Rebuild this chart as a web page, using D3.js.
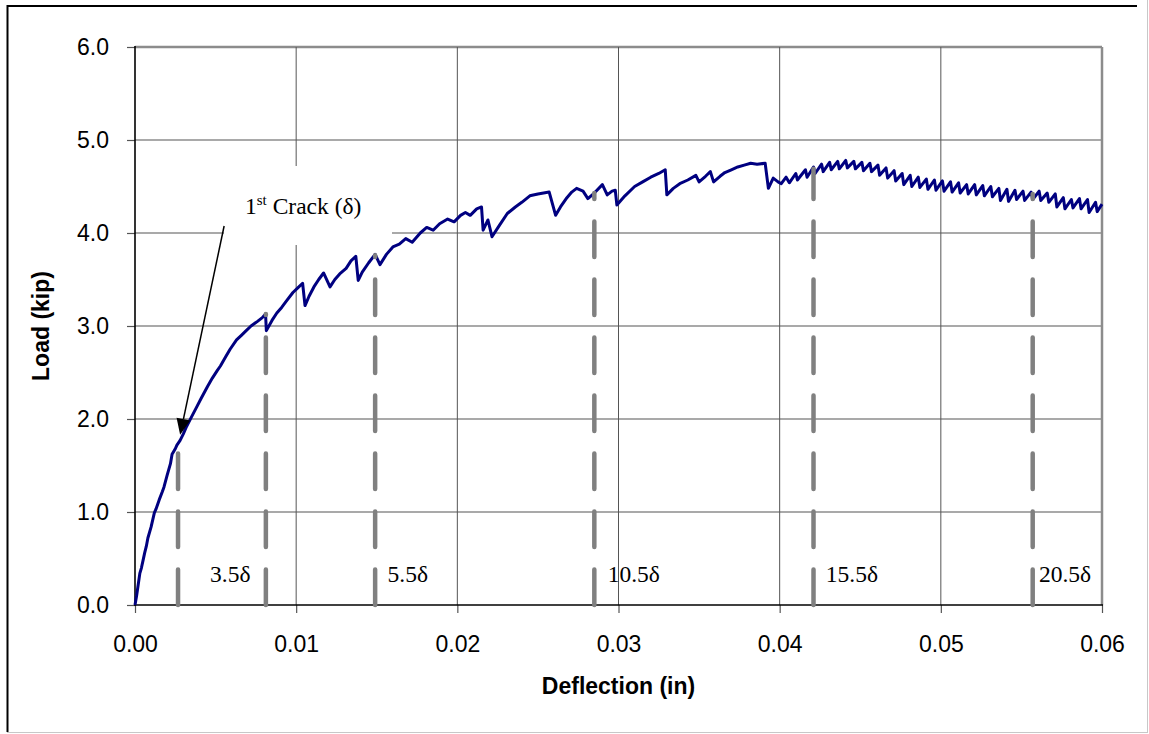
<!DOCTYPE html>
<html>
<head>
<meta charset="UTF-8">
<title>Load vs Deflection</title>
<style>
body { margin: 0; background: #fff; }
svg { display: block; }
.axis .tick text {
    font-family: "Liberation Sans", Arial, sans-serif;
    font-size: 23px;
    fill: #000;
}
.axis .tick line { stroke: #555; stroke-width: 1.2px; }
.axis path.domain { display: none; }
.axis-title {
    font-family: "Liberation Sans", Arial, sans-serif;
    font-size: 23px;
    font-weight: bold;
    fill: #000;
}
.note {
    font-family: "Liberation Serif", "Times New Roman", serif;
    font-size: 23.5px;
    fill: #000;
}
.load-path {
    fill: none;
    stroke: #000080;
    stroke-width: 3px;
    stroke-linejoin: round;
}
.mark-line {
    stroke: #808080;
    stroke-width: 4.5px;
    stroke-linecap: round;
    stroke-dasharray: 35.5 22.5;
}
</style>
</head>
<body>
<div class="chart"></div>
<script src="https://cdn.jsdelivr.net/npm/d3@7/dist/d3.min.js"></script>
<script>

// measured curve (in, kip)
const deflection = [
    0, 0.0001, 0.0002, 0.0003, 0.0004, 0.0005, 0.0006, 0.0007, 0.0008, 0.0010,
    0.0012, 0.0013, 0.0015, 0.0017, 0.0018, 0.0020, 0.0022, 0.0023, 0.0025, 0.0026,
    0.0028, 0.0030, 0.0032, 0.0035, 0.0038, 0.0041, 0.0045, 0.0048, 0.0051, 0.0053,
    0.0056, 0.0059, 0.0063, 0.0066, 0.0069, 0.0072, 0.0076, 0.0079, 0.0081, 0.00815,
    0.0085, 0.0088, 0.0091, 0.0094, 0.0098, 0.0101, 0.0104, 0.01055, 0.0108, 0.0111,
    0.0114, 0.0117, 0.0121, 0.0124, 0.0127, 0.0131, 0.0134, 0.0137, 0.01385, 0.0141,
    0.0145, 0.0149, 0.0152, 0.0156, 0.0160, 0.0164, 0.0168, 0.0172, 0.0177, 0.0181,
    0.0185, 0.0189, 0.0194, 0.0198, 0.0202, 0.0205, 0.0208, 0.0212, 0.0215, 0.0216,
    0.0219, 0.02215, 0.0226, 0.0231, 0.0236, 0.0240, 0.0245, 0.0250, 0.0257, 0.0261,
    0.0264, 0.0268, 0.0271, 0.0274, 0.0278, 0.0281, 0.0285, 0.0290, 0.0293, 0.0296,
    0.0298, 0.0299, 0.0304, 0.0310, 0.0315, 0.0320, 0.0325, 0.0329, 0.0330, 0.0334,
    0.0338, 0.0343, 0.0348, 0.0350, 0.0354, 0.0357, 0.0359, 0.0363, 0.0366, 0.0370,
    0.0374, 0.0378, 0.0382, 0.0386, 0.0391, 0.0393, 0.0396, 0.0399, 0.0401,
    0.0404, 0.0406, 0.0410, 0.0411, 0.0416, 0.0417, 0.0421, 0.0422, 0.0426, 0.0427,
    0.0431, 0.0432, 0.0436, 0.0437, 0.0441, 0.0442, 0.0446, 0.0447, 0.0451, 0.0452,
    0.0456, 0.0457, 0.0461, 0.0462, 0.0466, 0.0467, 0.0471, 0.0472, 0.0476, 0.0477,
    0.0481, 0.0482, 0.0486, 0.0487, 0.0491, 0.0492, 0.0496, 0.0497, 0.0501, 0.0502,
    0.0506, 0.0507, 0.0511, 0.0512, 0.0516, 0.0517, 0.0521, 0.0522, 0.0526, 0.0527,
    0.0531, 0.0532, 0.0536, 0.0537, 0.0541, 0.0542, 0.0546, 0.0547, 0.0551, 0.0552,
    0.0556, 0.0557, 0.0561, 0.0562, 0.0566, 0.0567, 0.0571, 0.0572, 0.0576, 0.0577,
    0.0581, 0.0582, 0.0586, 0.0587, 0.0591, 0.0592, 0.0596, 0.0597, 0.0600
];
const load = [
    0, 0.10, 0.22, 0.34, 0.40, 0.48, 0.56, 0.63, 0.72, 0.84,
    0.99, 1.03, 1.13, 1.22, 1.27, 1.40, 1.52, 1.62, 1.68, 1.72,
    1.77, 1.84, 1.92, 2.02, 2.12, 2.22, 2.35, 2.44, 2.52, 2.57,
    2.66, 2.75, 2.85, 2.90, 2.95, 3.00, 3.05, 3.09, 3.13, 2.95,
    3.06, 3.14, 3.20, 3.27, 3.36, 3.41, 3.46, 3.22, 3.32, 3.42,
    3.50, 3.57, 3.42, 3.50, 3.56, 3.62, 3.70, 3.75, 3.49, 3.58,
    3.68, 3.77, 3.66, 3.77, 3.85, 3.88, 3.94, 3.90, 4.00, 4.06,
    4.03, 4.10, 4.15, 4.12, 4.19, 4.22, 4.19, 4.26, 4.28, 4.03,
    4.14, 3.96, 4.08, 4.21, 4.28, 4.33, 4.40, 4.42, 4.44, 4.19,
    4.28, 4.38, 4.44, 4.48, 4.45, 4.37, 4.43, 4.52, 4.41, 4.45,
    4.46, 4.30, 4.40, 4.50, 4.55, 4.60, 4.64, 4.68, 4.41, 4.48,
    4.53, 4.57, 4.62, 4.55, 4.61, 4.66, 4.55, 4.61, 4.65, 4.68,
    4.71, 4.73, 4.75, 4.74, 4.75, 4.48, 4.59, 4.55, 4.53,
    4.60, 4.54, 4.64, 4.57, 4.68, 4.60, 4.71, 4.64, 4.74, 4.66,
    4.76, 4.68, 4.77, 4.69, 4.78, 4.70, 4.77, 4.69, 4.76, 4.67,
    4.75, 4.66, 4.73, 4.62, 4.70, 4.59, 4.67, 4.56, 4.64, 4.52,
    4.62, 4.50, 4.60, 4.49, 4.58, 4.47, 4.57, 4.46, 4.56, 4.45,
    4.55, 4.44, 4.54, 4.43, 4.52, 4.42, 4.52, 4.41, 4.51, 4.40,
    4.50, 4.39, 4.48, 4.35, 4.47, 4.34, 4.46, 4.36, 4.45, 4.35,
    4.44, 4.36, 4.45, 4.35, 4.43, 4.33, 4.42, 4.28, 4.38, 4.26,
    4.36, 4.27, 4.37, 4.26, 4.36, 4.22, 4.33, 4.23, 4.31
];

// dashed marker lines: deflection and load where they stop
const markDefl = [0.00267, 0.00812, 0.0149, 0.0285, 0.0421, 0.0557];
const markLoad = [1.72, 3.13, 3.76, 4.43, 4.69, 4.42];

// multiples of first-crack deflection
const noteText = ['3.5δ', '5.5δ', '10.5δ', '15.5δ', '20.5δ'];
const noteDefl = [0.00466, 0.01567, 0.02933, 0.04286, 0.05609];

const crackArrowFrom = [0.00553, 4.075];
const crackArrowTo = [0.0028, 1.83];

const xTicks = [0, 0.01, 0.02, 0.03, 0.04, 0.05, 0.06];
const yTicks = [0, 1, 2, 3, 4, 5, 6];

const width = 1149, height = 734;
const pLeft = 135, pRight = 1102, pTop = 47, pBottom = 605;

let svg = d3.select('.chart').append('svg')
    .attr('width', width)
    .attr('height', height);

svg.append('rect').attr('width', width).attr('height', height).attr('fill', '#fff');

// outer frame
svg.append('line').attr('x1', 7).attr('x2', 1137).attr('y1', 6).attr('y2', 6)
    .attr('stroke', '#000').attr('stroke-width', 2);
svg.append('line').attr('x1', 7.5).attr('x2', 7.5).attr('y1', 5).attr('y2', 732)
    .attr('stroke', '#000').attr('stroke-width', 2);
svg.append('line').attr('x1', 1147.5).attr('x2', 1147.5).attr('y1', 0).attr('y2', 733)
    .attr('stroke', '#c8c8c8').attr('stroke-width', 1);
svg.append('line').attr('x1', 7).attr('x2', 1148).attr('y1', 732.5).attr('y2', 732.5)
    .attr('stroke', '#c8c8c8').attr('stroke-width', 1);

let x = d3.scaleLinear().domain([0, 0.06]).range([pLeft, pRight]);
let y = d3.scaleLinear().domain([0, 6]).range([pBottom, pTop]);

// grid
let grid = svg.append('g');
grid.selectAll('.hgrid')
    .data(yTicks.filter(d => d > 0))
    .enter().append('line')
    .attr('x1', pLeft).attr('x2', pRight)
    .attr('y1', d => y(d)).attr('y2', d => y(d))
    .attr('stroke', '#8c8c8c')
    .attr('stroke-width', d => d === 6 ? 2.5 : 1.3);
grid.selectAll('.vgrid')
    .data(xTicks.filter(d => d > 0))
    .enter().append('line')
    .attr('x1', d => x(d)).attr('x2', d => x(d))
    .attr('y1', pTop).attr('y2', pBottom)
    .attr('stroke', d => d === 0.06 ? '#8c8c8c' : '#555')
    .attr('stroke-width', d => d === 0.06 ? 2.5 : 1);

// axes
svg.append('g')
    .attr('class', 'axis')
    .attr('transform', 'translate(' + pLeft + ',0)')
    .call(d3.axisLeft(y).tickValues(yTicks).tickSize(8).tickPadding(18)
        .tickFormat(d3.format('.1f')));

svg.append('g')
    .attr('class', 'axis')
    .attr('transform', 'translate(0,' + pBottom + ')')
    .call(d3.axisBottom(x).tickValues(xTicks).tickSize(8).tickPadding(23)
        .tickFormat(d3.format('.2f')));

svg.append('line').attr('x1', pLeft).attr('x2', pLeft).attr('y1', pTop - 1).attr('y2', pBottom + 1)
    .attr('stroke', '#000').attr('stroke-width', 1.6);
svg.append('line').attr('x1', pLeft).attr('x2', pRight + 1).attr('y1', pBottom).attr('y2', pBottom)
    .attr('stroke', '#000').attr('stroke-width', 1.6);

// axis titles
svg.append('text')
    .attr('class', 'axis-title')
    .attr('x', (pLeft + pRight) / 2)
    .attr('y', 694)
    .attr('text-anchor', 'middle')
    .text('Deflection (in)');

svg.append('text')
    .attr('class', 'axis-title')
    .attr('transform', 'translate(49,' + ((pTop + pBottom) / 2) + ') rotate(-90)')
    .attr('text-anchor', 'middle')
    .text('Load (kip)');

// callout box hides the grid behind the label
let noteX = 245, noteY = 214;
svg.append('rect')
    .attr('x', noteX - 21).attr('y', noteY - 48)
    .attr('width', 168).attr('height', 79)
    .attr('fill', '#fff');

let crackNote = svg.append('text')
    .attr('class', 'note')
    .attr('x', noteX)
    .attr('y', noteY);
crackNote.append('tspan').text('1');
crackNote.append('tspan').attr('dy', -9).style('font-size', '15px').text('st');
crackNote.append('tspan').attr('dy', 9).text(' Crack (δ)');

// load curve
let points = deflection.map((d, i) => [d, load[i]]);
let line = d3.line()
    .x(d => x(d[0]))
    .y(d => y(d[1]));

svg.append('path')
    .attr('class', 'load-path')
    .attr('d', line(points));

// dashed marker lines
svg.selectAll('.mark-line')
    .data(markDefl)
    .enter().append('line')
    .attr('class', 'mark-line')
    .attr('x1', d => x(d)).attr('x2', d => x(d))
    .attr('y1', y(0))
    .attr('y2', (d, i) => y(markLoad[i]));

svg.selectAll('.mult')
    .data(noteText)
    .enter().append('text')
    .attr('class', 'note')
    .attr('x', (d, i) => x(noteDefl[i]))
    .attr('y', 582)
    .text(d => d);

// arrow to first crack
let ax0 = x(crackArrowFrom[0]), ay0 = y(crackArrowFrom[1]);
let ax1 = x(crackArrowTo[0]), ay1 = y(crackArrowTo[1]);
let len = Math.hypot(ax1 - ax0, ay1 - ay0);
let ux = (ax1 - ax0) / len, uy = (ay1 - ay0) / len;
let headLen = 16, headHalf = 7;
let bx = ax1 - ux * headLen, by = ay1 - uy * headLen;

svg.append('line')
    .attr('x1', ax0).attr('y1', ay0)
    .attr('x2', bx).attr('y2', by)
    .attr('stroke', '#000').attr('stroke-width', 1.5);

svg.append('path')
    .attr('d', 'M' + ax1 + ',' + ay1 +
        'L' + (bx - uy * headHalf) + ',' + (by + ux * headHalf) +
        'L' + (bx + uy * headHalf) + ',' + (by - ux * headHalf) + 'Z')
    .attr('fill', '#000');

</script>
</body>
</html>
